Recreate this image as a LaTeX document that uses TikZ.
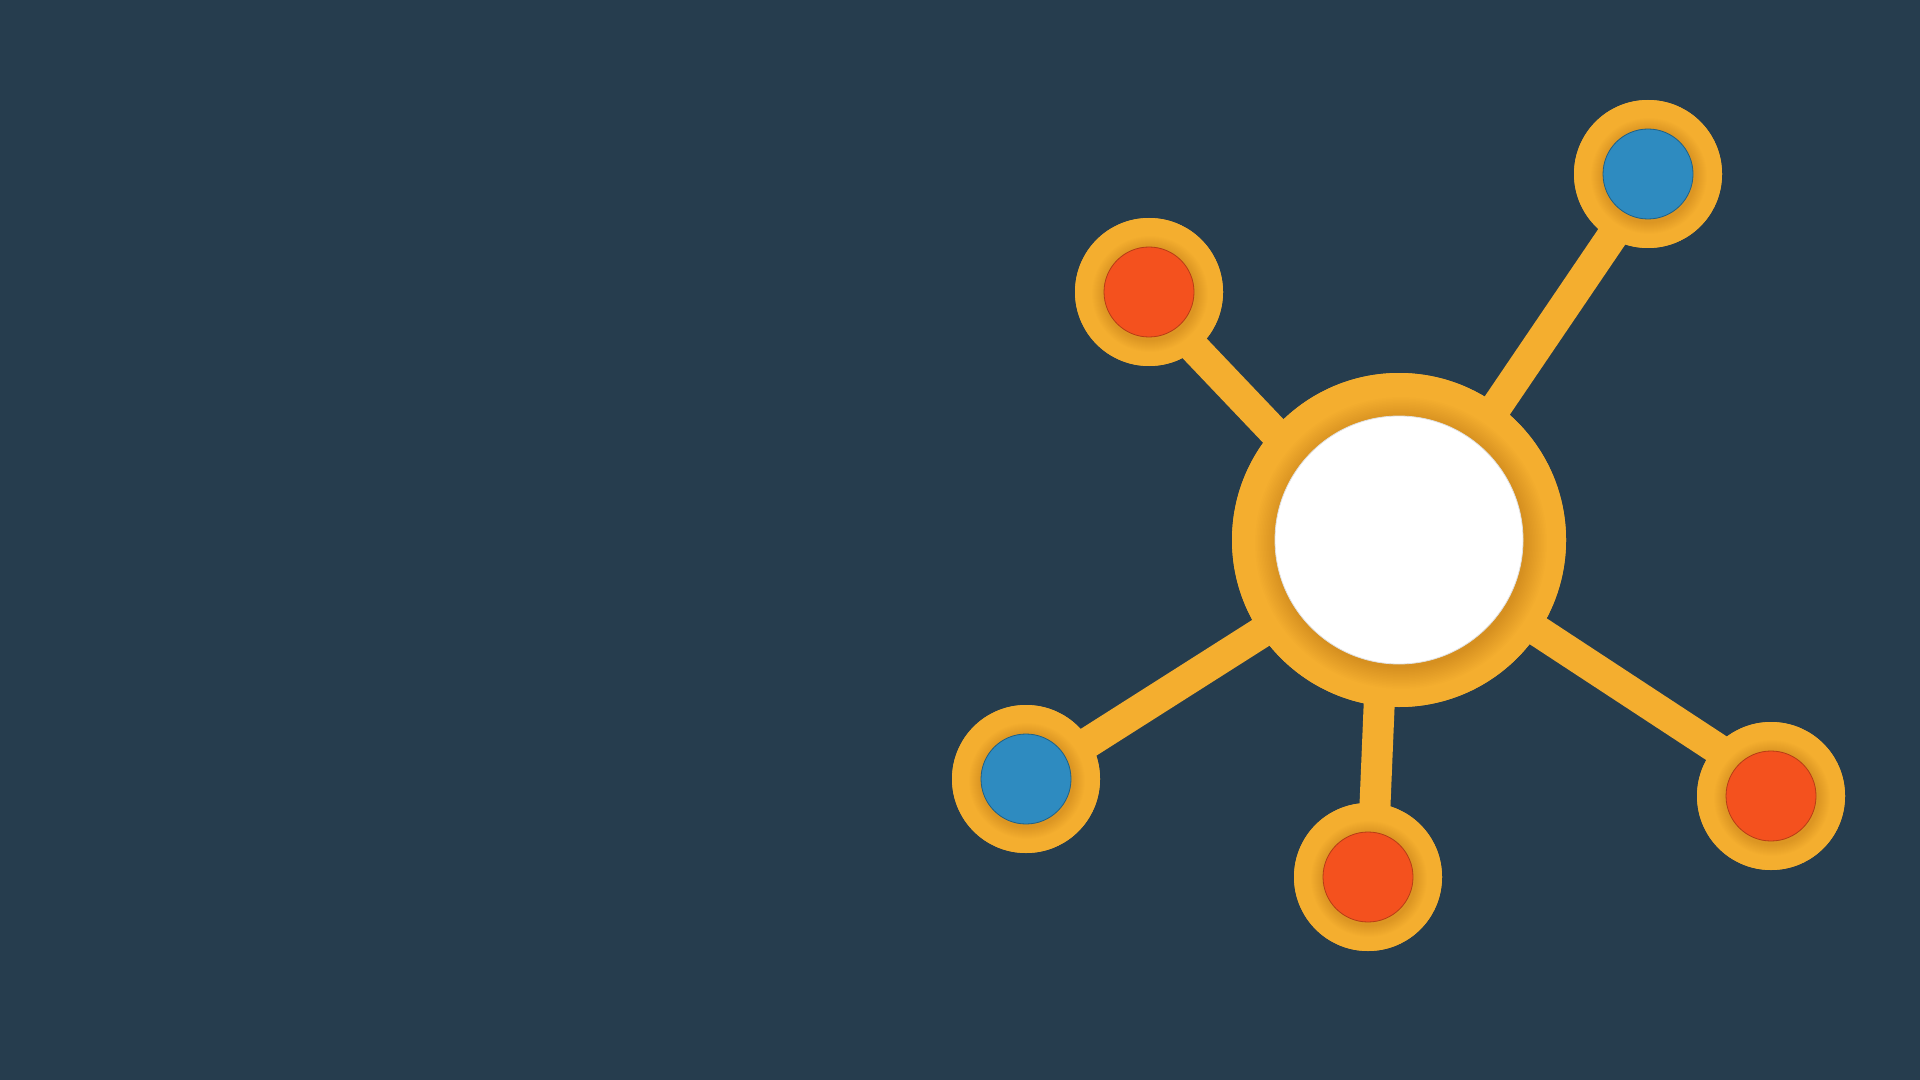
\documentclass[tikz,border=0pt]{standalone}
\usetikzlibrary{calc}
\definecolor{bg}{HTML}{263D4E}
\definecolor{ring}{HTML}{F4AE2F}
\definecolor{hotred}{HTML}{F4511E}
\definecolor{skyblue}{HTML}{2E8BC0}
\begin{document}
\begin{tikzpicture}[x=0.5pt,y=-0.5pt,
  link/.style={draw=ring, line width=15.5pt},
  ringnode/.style={circle, fill=ring, inner sep=0pt, minimum size=#1},
  corenode/.style={circle, inner sep=0pt, minimum size=#1}]
\fill[bg] (0,0) rectangle (1920,1080);
\useasboundingbox (0,0) rectangle (1920,1080);

% outer rings (positioned)
\node[ringnode=167pt] (c) at (1399,540) {};
\node[ringnode=74pt] (n1) at (1149,292) {};
\node[ringnode=74pt] (n2) at (1648,174) {};
\node[ringnode=74pt] (n3) at (1026,779) {};
\node[ringnode=74pt] (n4) at (1368,877) {};
\node[ringnode=74pt] (n5) at (1771,796) {};

% connectors
\draw[link] ($(c.center)+(-22,0)$) -- ($(n1.center)+(-8,0)$);
\draw[link] ($(c.center)+(5,3)$) -- ($(n2.center)+(5,2)$);
\draw[link] ($(c.center)+(0,5)$) -- ($(n3.center)+(0,3)$);
\draw[link] ($(c.center)+(-13,0)$) -- ($(n4.center)+(4,0)$);
\draw[link] (c.center) -- ($(n5.center)+(0,-12)$);

% rings redrawn over connectors
\node[ringnode=167pt] at (c.center) {};
\foreach \n in {n1,n2,n3,n4,n5}
  \node[ringnode=74pt] at (\n.center) {};

% inner shadows
\foreach \k in {0,...,14}
  \fill[black, opacity=0.008] ($(c.center)+(2,3)$) circle[radius={(124+22-1.5*\k)*0.5pt}];
\foreach \n in {n1,n2,n3,n4,n5}{
  \foreach \k in {0,...,11}
    \fill[black, opacity=0.009] ($(\n.center)+(1,2)$) circle[radius={(45+13-\k)*0.5pt}];
}

% cores
\node[corenode=124pt, fill=white, draw=black!12, line width=0.4pt] (cw) at (c.center) {};
\node[corenode=45pt, fill=hotred, draw=hotred!75!black, line width=0.4pt] (r1) at (n1.center) {};
\node[corenode=45pt, fill=skyblue, draw=skyblue!70!black, line width=0.4pt] (b2) at (n2.center) {};
\node[corenode=45pt, fill=skyblue, draw=skyblue!70!black, line width=0.4pt] (b3) at (n3.center) {};
\node[corenode=45pt, fill=hotred, draw=hotred!75!black, line width=0.4pt] (r4) at (n4.center) {};
\node[corenode=45pt, fill=hotred, draw=hotred!75!black, line width=0.4pt] (r5) at (n5.center) {};
\end{tikzpicture}
\end{document}
